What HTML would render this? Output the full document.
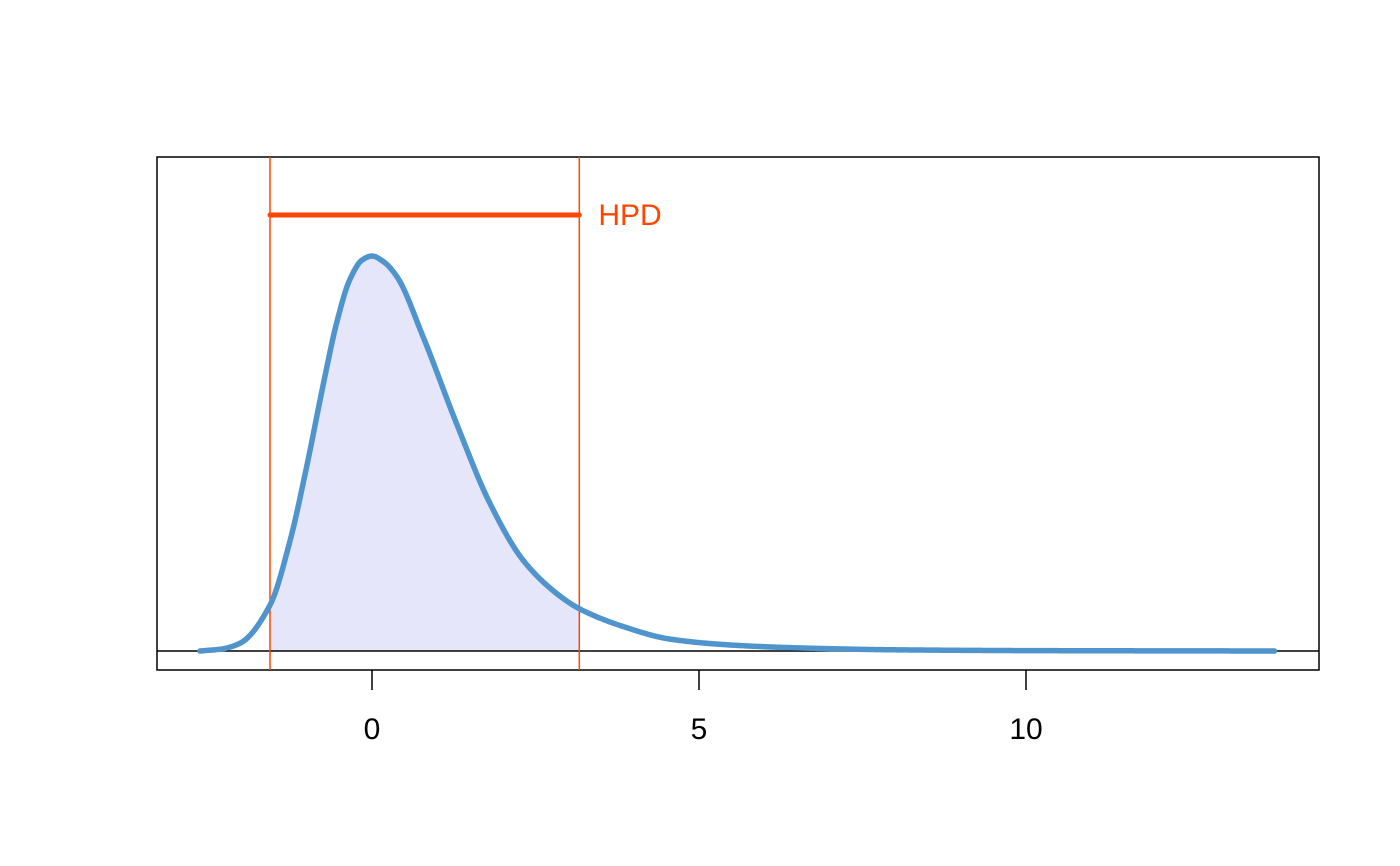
<!DOCTYPE html>
<html><head><meta charset="utf-8"><style>
body{margin:0;background:#fff;}
svg{display:block;font-family:"Liberation Sans","DejaVu Sans",sans-serif;}
</style></head><body>
<svg id="chart" width="1400" height="866">
<defs><clipPath id="hpdclip"><rect id="cliprect" x="0" y="0" width="0" height="866"/></clipPath></defs>
<g id="fillg" clip-path="url(#hpdclip)"></g>
<g id="lines"></g>
</svg>
<script>
const xs = [-2.63,-2.3,-2.02,-1.56,-1.25,-1.0,-0.74,-0.54,-0.34,-0.15,0,0.18,0.38,0.78,1.29,1.80,2.31,2.82,3.16,3.84,4.56,5.5,6.5,8.0,10.0,13.8];
const dens = [0,0.005,0.0195,0.116,0.281,0.466,0.679,0.831,0.940,0.99,1.0,0.985,0.948,0.796,0.577,0.375,0.230,0.146,0.108,0.062,0.030,0.015,0.008,0.003,0.001,0];
const hpd = [-1.56,3.17];
const xTicks = [0,5,10];
const hpdLabel = "HPD";

const NS="http://www.w3.org/2000/svg";
const svg=document.getElementById('chart');
const X=v=>372+v*65.4;
const Y=d=>651-d*395;
function mk(t,a,p){const e=document.createElementNS(NS,t);for(const k in a)e.setAttribute(k,a[k]);(p||svg).appendChild(e);return e;}
// monotone cubic interpolation (Fritsch-Carlson)
const n=xs.length, dl=[], m=[];
for(let i=0;i<n-1;i++) dl.push((dens[i+1]-dens[i])/(xs[i+1]-xs[i]));
m[0]=dl[0]; m[n-1]=dl[n-2];
for(let i=1;i<n-1;i++){
  if(dl[i-1]*dl[i]<=0) m[i]=0;
  else { const h0=xs[i]-xs[i-1], h1=xs[i+1]-xs[i]; const w1=2*h1+h0, w2=h1+2*h0; m[i]=(w1+w2)/(w1/dl[i-1]+w2/dl[i]); }
}
function f(x){
  let i=0; while(i<n-2 && x>xs[i+1]) i++;
  const h=xs[i+1]-xs[i], t=(x-xs[i])/h, t2=t*t, t3=t2*t;
  return (2*t3-3*t2+1)*dens[i]+(t3-2*t2+t)*h*m[i]+(-2*t3+3*t2)*dens[i+1]+(t3-t2)*h*m[i+1];
}
const N=600, pts=[];
for(let k=0;k<=N;k++){const x=xs[0]+(xs[n-1]-xs[0])*k/N; pts.push([X(x),Y(Math.max(0,f(x)))]);}
const d='M'+pts.map(p=>p[0].toFixed(2)+','+p[1].toFixed(2)).join(' L');
const cr=document.getElementById('cliprect');
cr.setAttribute('x',X(hpd[0]));cr.setAttribute('width',X(hpd[1])-X(hpd[0]));
const fill=mk('path',{d:d+` L${pts[pts.length-1][0]},${Y(0)} L${pts[0][0]},${Y(0)} Z`,fill:'#e6e6fa'},document.getElementById('fillg'));


const g=document.getElementById('lines');
const box=mk('rect',{x:157,y:157,width:1162,height:513,fill:'none',stroke:'#000','stroke-width':1.5},g);


const base=mk('line',{x1:157,x2:1319,y1:Y(0),y2:Y(0),stroke:'#000','stroke-width':1.5},g);


hpd.forEach((h,i)=>{
  const l=mk('line',{x1:X(h),x2:X(h),y1:157,y2:670,stroke:'#ff4500','stroke-width':1.5},g);
  
  
});
const bar=mk('line',{x1:X(hpd[0]),x2:X(hpd[1]),y1:215,y2:215,stroke:'#ff4500','stroke-width':5,'stroke-linecap':'round'},g);


const lab=mk('text',{x:X(hpd[1])+19,y:225,fill:'#ff4500','font-size':30},g);
lab.textContent=hpdLabel;


const curve=mk('path',{d:d,fill:'none',stroke:'#4f94cd','stroke-width':5.5,'stroke-linecap':'round','stroke-linejoin':'round'},g);


xTicks.forEach(t=>{
  const tk=mk('line',{x1:X(t),x2:X(t),y1:670,y2:690,stroke:'#000','stroke-width':1.5},g);
  
  
  const tl=mk('text',{x:X(t),y:739,'text-anchor':'middle','font-size':30,fill:'#000'},g);
  tl.textContent=t;
  
  
});
</script>
</body></html>
